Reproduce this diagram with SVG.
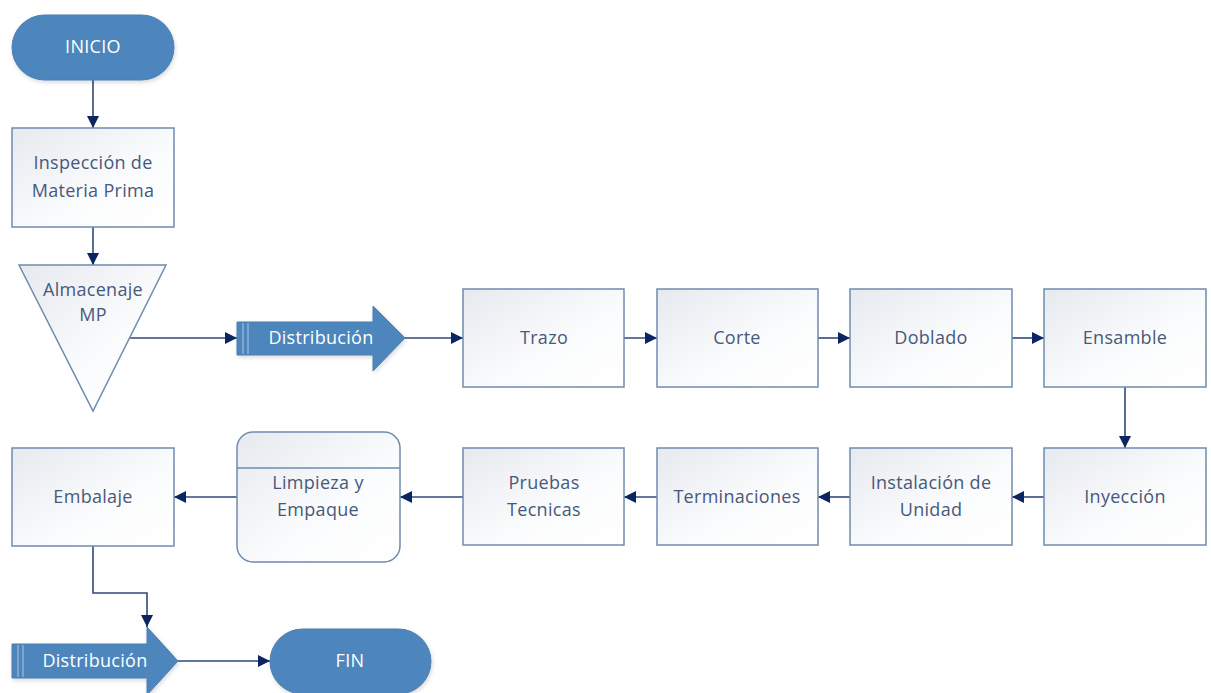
<svg xmlns="http://www.w3.org/2000/svg" width="1211" height="693" viewBox="0 0 1211 693">
<defs>
<linearGradient id="boxg" x1="0" y1="0" x2="1" y2="1">
<stop offset="0" stop-color="#E6E9EF"/>
<stop offset="0.6" stop-color="#FBFCFD"/>
<stop offset="1" stop-color="#FFFFFF"/>
</linearGradient>
<marker id="ah" viewBox="0 0 12 12" refX="12" refY="6" markerWidth="12" markerHeight="12" markerUnits="userSpaceOnUse" orient="auto">
<path d="M0,0 L12,6 L0,12 Z" fill="#0C2461"/>
</marker>
<filter id="sh" x="-10%" y="-10%" width="120%" height="130%">
<feDropShadow dx="1" dy="2" stdDeviation="2" flood-color="#000" flood-opacity="0.15"/>
</filter>
</defs>
<style>
.box{fill:url(#boxg);stroke:#6F8CAE;stroke-width:1.5}
.term{fill:#4E86BC;stroke:#4A7FB2;stroke-width:1}
.t{font-family:"Open Sans","Liberation Sans",Arial,sans-serif;font-size:18px;letter-spacing:0.3px;fill:#47597A;text-anchor:middle;dominant-baseline:central}
.w{font-family:"Open Sans","Liberation Sans",Arial,sans-serif;font-size:18px;letter-spacing:0.3px;fill:#FFFFFF;text-anchor:middle;dominant-baseline:central}
.c{fill:none;stroke:#2F4A7A;stroke-width:1.6;marker-end:url(#ah)}
.stripe{stroke:#9DBBDD;stroke-width:1.2}
</style>
<g id="connectors">
<path class="c" d="M93,80 V128"/>
<path class="c" d="M93,227 V265"/>
<path class="c" d="M129,338 H237"/>
<path class="c" d="M405,338 H463"/>
<path class="c" d="M624,338 H657"/>
<path class="c" d="M818,338 H850"/>
<path class="c" d="M1012,338 H1044"/>
<path class="c" d="M1125,387 V448"/>
<path class="c" d="M1044,497 H1012"/>
<path class="c" d="M850,497 H818"/>
<path class="c" d="M657,497 H624"/>
<path class="c" d="M463,497 H400"/>
<path class="c" d="M237,497 H174"/>
<path class="c" d="M93,546 V593 H147 V627"/>
<path class="c" d="M178,661 H270"/>
</g>
<g id="inicio">
<rect class="term" x="12" y="15" width="162" height="65" rx="32.5" filter="url(#sh)"/>
<text class="w" x="93" y="46">INICIO</text>
</g>
<g id="inspeccion">
<rect class="box" x="12" y="128" width="162" height="99"/>
<text class="t" x="93" y="162">Inspección de</text>
<text class="t" x="93" y="190">Materia Prima</text>
</g>
<g id="almacenaje">
<path class="box" d="M19,265 H166 L93,411 Z"/>
<text class="t" x="93" y="289">Almacenaje</text>
<text class="t" x="93" y="314">MP</text>
</g>
<g id="distribucion1">
<path class="term" d="M237,322 H373 V306 L405,338 L373,371 V355 H237 Z" filter="url(#sh)"/>
<line class="stripe" x1="243" y1="323" x2="243" y2="354"/>
<line class="stripe" x1="248" y1="323" x2="248" y2="354"/>
<text class="w" x="321" y="337">Distribución</text>
</g>
<g id="trazo">
<rect class="box" x="463" y="289" width="161" height="98"/>
<text class="t" x="544" y="337">Trazo</text>
</g>
<g id="corte">
<rect class="box" x="657" y="289" width="161" height="98"/>
<text class="t" x="737" y="337">Corte</text>
</g>
<g id="doblado">
<rect class="box" x="850" y="289" width="162" height="98"/>
<text class="t" x="931" y="337">Doblado</text>
</g>
<g id="ensamble">
<rect class="box" x="1044" y="289" width="162" height="98"/>
<text class="t" x="1125" y="337">Ensamble</text>
</g>
<g id="inyeccion">
<rect class="box" x="1044" y="448" width="162" height="97"/>
<text class="t" x="1125" y="496">Inyección</text>
</g>
<g id="instalacion">
<rect class="box" x="850" y="448" width="162" height="97"/>
<text class="t" x="931" y="482">Instalación de</text>
<text class="t" x="931" y="509">Unidad</text>
</g>
<g id="terminaciones">
<rect class="box" x="657" y="448" width="161" height="97"/>
<text class="t" x="737" y="496">Terminaciones</text>
</g>
<g id="pruebas">
<rect class="box" x="463" y="448" width="161" height="97"/>
<text class="t" x="544" y="482">Pruebas</text>
<text class="t" x="544" y="509">Tecnicas</text>
</g>
<g id="limpieza">
<rect class="box" x="237" y="432" width="163" height="130" rx="16"/>
<line x1="237" y1="468" x2="400" y2="468" stroke="#6F8CAE" stroke-width="1.5"/>
<text class="t" x="318" y="482">Limpieza y</text>
<text class="t" x="318" y="509">Empaque</text>
</g>
<g id="embalaje">
<rect class="box" x="12" y="448" width="162" height="98"/>
<text class="t" x="93" y="496">Embalaje</text>
</g>
<g id="distribucion2">
<path class="term" d="M12,644 H147 V627 L178,661 L147,695 V678 H12 Z" filter="url(#sh)"/>
<line class="stripe" x1="18" y1="645" x2="18" y2="677"/>
<line class="stripe" x1="23" y1="645" x2="23" y2="677"/>
<text class="w" x="95" y="660">Distribución</text>
</g>
<g id="fin">
<rect class="term" x="270" y="629" width="161" height="65" rx="32.5" filter="url(#sh)"/>
<text class="w" x="350" y="660">FIN</text>
</g>
</svg>
